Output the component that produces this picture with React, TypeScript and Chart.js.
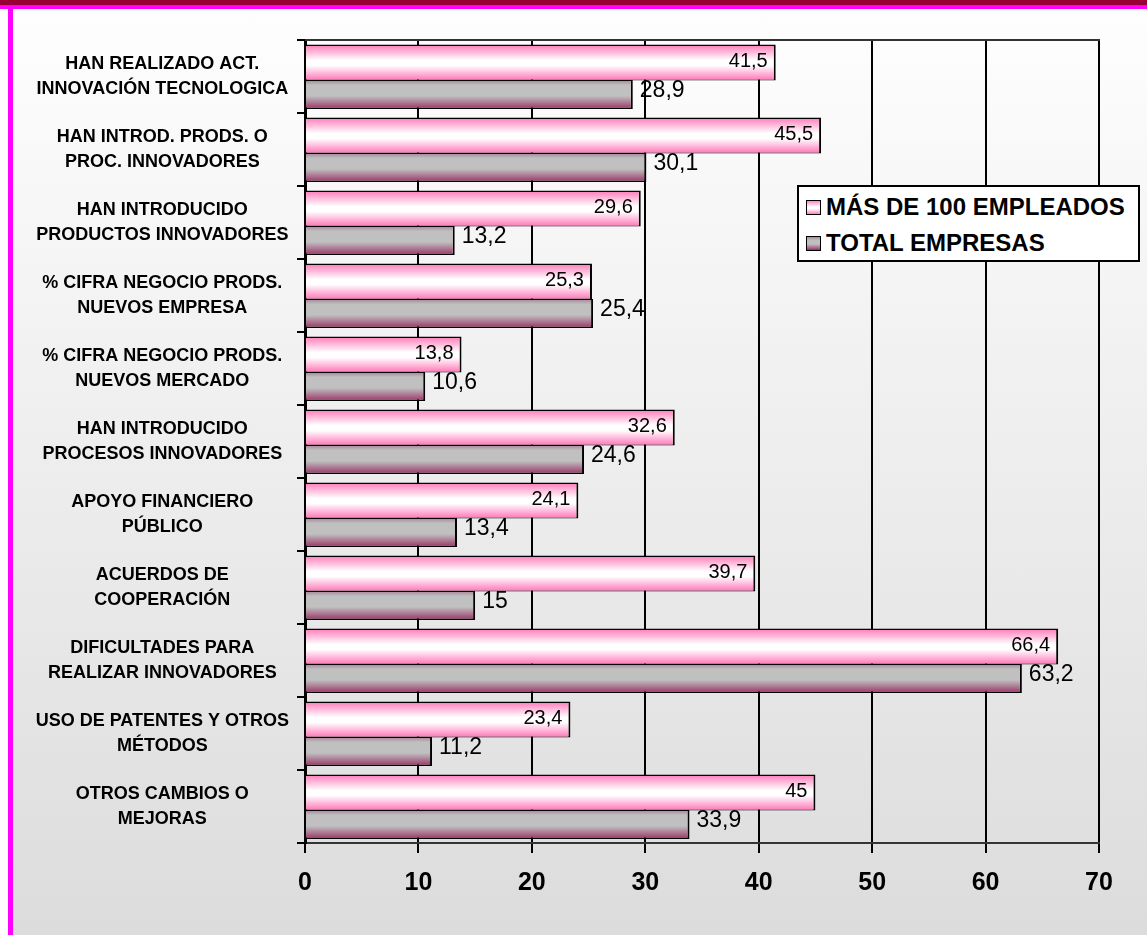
import React, { useEffect, useRef } from "react";
import { Chart, registerables } from "chart.js";

Chart.register(...registerables);

const CATEGORIES: string[][] = [
  ["HAN REALIZADO ACT.", "INNOVACIÓN TECNOLOGICA"],
  ["HAN INTROD. PRODS. O", "PROC. INNOVADORES"],
  ["HAN INTRODUCIDO", "PRODUCTOS INNOVADORES"],
  ["% CIFRA NEGOCIO PRODS.", "NUEVOS EMPRESA"],
  ["% CIFRA NEGOCIO PRODS.", "NUEVOS MERCADO"],
  ["HAN INTRODUCIDO", "PROCESOS INNOVADORES"],
  ["APOYO FINANCIERO", "PÚBLICO"],
  ["ACUERDOS DE", "COOPERACIÓN"],
  ["DIFICULTADES PARA", "REALIZAR INNOVADORES"],
  ["USO DE PATENTES Y OTROS", "MÉTODOS"],
  ["OTROS CAMBIOS O", "MEJORAS"],
];

const SERIES_NAMES = ["MÁS DE 100 EMPLEADOS", "TOTAL EMPRESAS"];
const MAS_DE_100 = [41.5, 45.5, 29.6, 25.3, 13.8, 32.6, 24.1, 39.7, 66.4, 23.4, 45];
const TOTAL_EMPRESAS = [28.9, 30.1, 13.2, 25.4, 10.6, 24.6, 13.4, 15, 63.2, 11.2, 33.9];

const X_MIN = 0;
const X_MAX = 70;
const X_STEP = 10;

const FONT = '"Liberation Sans", Arial, Helvetica, sans-serif';

const PINK_STOPS: [number, string][] = [
  [0, "#ff78b8"],
  [0.44, "#ffffff"],
  [0.58, "#ffffff"],
  [1, "#ff74b6"],
];
const GRAY_STOPS: [number, string][] = [
  [0, "#a48496"],
  [0.18, "#c0c0c0"],
  [0.55, "#c0c0c0"],
  [1, "#993366"],
];

const PINK_CAT = 0.767;
const PINK_BAR = 1.286;
const GRAY_CAT = 0.986;
const GRAY_BAR = 0.806;

function barGradient(ctx: any, catP: number, barP: number, side: number, stops: [number, string][]) {
  const chart = ctx.chart;
  const ys = chart.scales && chart.scales.y;
  if (!ys || !chart.chartArea || ctx.dataIndex === undefined) return stops[1][1];
  const step = ys.height / CATEGORIES.length;
  const c = ys.getPixelForValue(ctx.dataIndex);
  const center = c + side * 0.25 * catP * step;
  const half = 0.25 * catP * step * barP;
  const g = chart.ctx.createLinearGradient(0, center - half, 0, center + half);
  stops.forEach(([o, col]) => g.addColorStop(o, col));
  return g;
}

const fmt = (v: number) => String(v).replace(".", ",");

const valueLabels = {
  id: "valueLabels",
  afterDatasetsDraw(chart: any) {
    const c = chart.ctx;
    chart.data.datasets.forEach((ds: any, di: number) => {
      const meta = chart.getDatasetMeta(di);
      meta.data.forEach((el: any, i: number) => {
        const { x, y } = el.getProps(["x", "y"], true);
        const txt = fmt(ds.data[i]);
        c.save();
        c.fillStyle = "#000";
        c.textBaseline = "middle";
        if (di === 0) {
          c.font = `20px ${FONT}`;
          c.textAlign = "right";
          c.fillText(txt, x - 8, y - 1.5);
        } else {
          c.font = `23px ${FONT}`;
          c.textAlign = "left";
          c.fillText(txt, x + 7, y - 4);
        }
        c.restore();
      });
    });
  },
};

const frameTop = {
  id: "frameTop",
  beforeDatasetsDraw(chart: any) {
    const { ctx, chartArea } = chart;
    ctx.save();
    ctx.strokeStyle = "#333";
    ctx.lineWidth = 2;
    ctx.beginPath();
    ctx.moveTo(chartArea.left, chartArea.top);
    ctx.lineTo(chartArea.right + 1, chartArea.top);
    ctx.stroke();
    ctx.restore();
  },
};

function BarChart() {
  const ref = useRef<HTMLCanvasElement | null>(null);
  useEffect(() => {
    if (!ref.current) return;
    const chart = new Chart(ref.current, {
      type: "bar",
      data: {
        labels: CATEGORIES as any,
        datasets: [
          {
            label: SERIES_NAMES[0],
            data: MAS_DE_100,
            backgroundColor: (ctx: any) => barGradient(ctx, PINK_CAT, PINK_BAR, -1, PINK_STOPS),
            borderColor: "#000",
            borderWidth: { top: 1.5, right: 2, bottom: 1, left: 0 } as any,
            borderSkipped: false,
            categoryPercentage: PINK_CAT,
            barPercentage: PINK_BAR,
          },
          {
            label: SERIES_NAMES[1],
            data: TOTAL_EMPRESAS,
            backgroundColor: (ctx: any) => barGradient(ctx, GRAY_CAT, GRAY_BAR, 1, GRAY_STOPS),
            borderColor: "#000",
            borderWidth: { top: 1, right: 2, bottom: 1.5, left: 0 } as any,
            borderSkipped: false,
            categoryPercentage: GRAY_CAT,
            barPercentage: GRAY_BAR,
          },
        ],
      },
      options: {
        indexAxis: "y",
        responsive: false,
        animation: false,
        devicePixelRatio: 1,
        layout: { padding: { top: 30, right: 48, left: 0, bottom: 0 } },
        plugins: {
          legend: { display: false },
          tooltip: { enabled: false },
        },
        scales: {
          x: {
            type: "linear",
            min: X_MIN,
            max: X_MAX,
            ticks: {
              stepSize: X_STEP,
              color: "#000",
              padding: 15,
              font: { family: FONT, size: 25, weight: "bold" },
            },
            grid: {
              color: "#000",
              lineWidth: 2,
              drawTicks: true,
              tickLength: 10,
              tickWidth: 2,
              tickColor: "#000",
            },
            border: { display: true, color: "#333", width: 2 },
            afterFit: (s: any) => {
              s.height = 92;
            },
          },
          y: {
            type: "category",
            offset: true,
            ticks: {
              color: "#000",
              crossAlign: "center",
              padding: 8,
              font: { family: FONT, size: 18, weight: "bold", lineHeight: 25 / 18 },
            },
            grid: {
              offset: true,
              drawOnChartArea: false,
              drawTicks: true,
              tickLength: 8,
              tickWidth: 2,
              tickColor: "#000",
              color: "#000",
              lineWidth: 2,
            },
            border: { display: true, color: "#000", width: 3 },
            afterFit: (s: any) => {
              s.width = 292;
              s.paddingTop = 0;
              s.paddingBottom = 0;
            },
          },
        },
      } as any,
      plugins: [frameTop, valueLabels],
    });
    return () => chart.destroy();
  }, []);
  return <canvas ref={ref} width={1134} height={925} style={{ display: "block" }} />;
}

export default function App() {
  const marker = (bg: string) => ({
    display: "inline-block",
    width: 15,
    height: 15,
    border: "1.5px solid #000",
    background: bg,
    marginRight: 5,
    boxSizing: "border-box" as const,
  });
  const pinkBg = "linear-gradient(#ff86c0, #ffffff 45%, #ffffff 60%, #ff80bb)";
  const grayBg = "linear-gradient(#a88a9c, #c0c0c0 25%, #c0c0c0 55%, #993366)";
  return (
    <div style={{ position: "fixed", left: 0, top: 0, width: 1147, height: 935, background: "#fff", overflow: "hidden" }}>
      <div style={{ position: "absolute", left: 0, top: 0, width: 1147, height: 5, background: "#990033" }} />
      <div style={{ position: "absolute", left: 0, top: 5, width: 1147, height: 4, background: "#ff00ff" }} />
      <div style={{ position: "absolute", left: 8, top: 9, width: 5, height: 926, background: "#ff00ff" }} />
      <div
        style={{
          position: "absolute",
          left: 13,
          top: 9,
          width: 1134,
          height: 926,
          background: "linear-gradient(#fefefe, #dcdcdc)",
        }}
      >
        <div style={{ position: "absolute", left: 0, top: 1 }}>
          <BarChart />
        </div>
      </div>
      <div
        style={{
          position: "absolute",
          left: 797,
          top: 185,
          width: 343,
          height: 77,
          boxSizing: "border-box",
          border: "2px solid #000",
          background: "#fff",
          fontFamily: FONT,
          fontWeight: "bold",
          fontSize: 24,
          color: "#000",
          paddingLeft: 7,
          whiteSpace: "nowrap",
        }}
      >
        <div style={{ display: "flex", alignItems: "center", height: 36, marginTop: 2 }}>
          <span style={marker(pinkBg)} />
          <span>{SERIES_NAMES[0]}</span>
        </div>
        <div style={{ display: "flex", alignItems: "center", height: 36 }}>
          <span style={marker(grayBg)} />
          <span>{SERIES_NAMES[1]}</span>
        </div>
      </div>
    </div>
  );
}
